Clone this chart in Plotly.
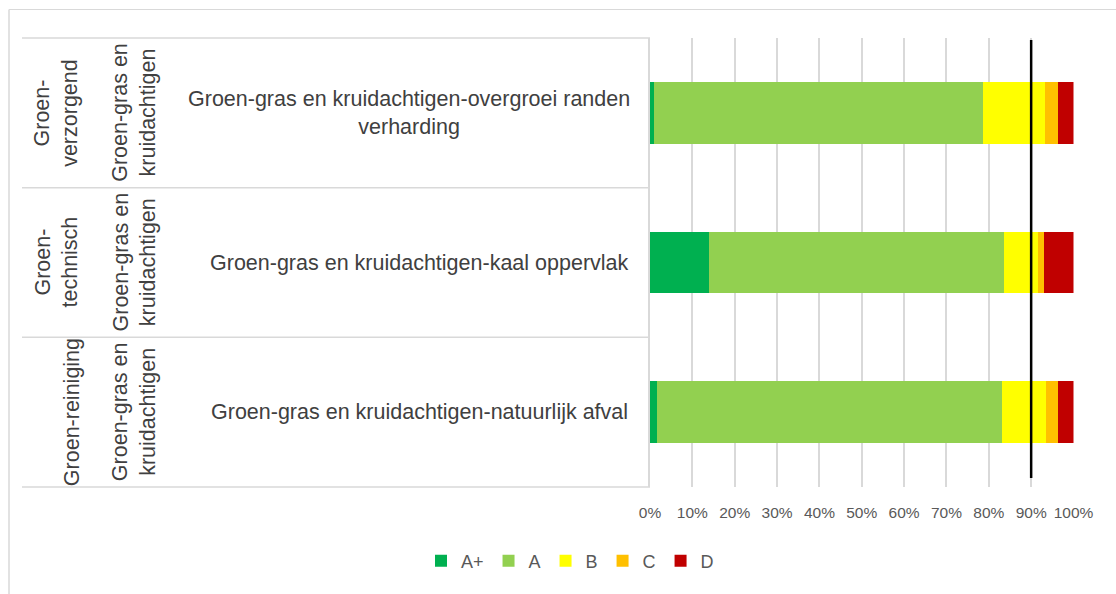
import plotly.graph_objects as go

# ---- data ----
level1 = ["Groen-<br>verzorgend", "Groen-<br>technisch", "Groen-reiniging"]
level2 = ["Groen-gras en<br>kruidachtigen"] * 3
level3 = ["Groen-gras en kruidachtigen-overgroei randen<br>verharding",
          "Groen-gras en kruidachtigen-kaal oppervlak",
          "Groen-gras en kruidachtigen-natuurlijk afval"]
cat_keys = ["verzorgend", "technisch", "reiniging"]
series_names = ["A+", "A", "B", "C", "D"]
values = {
    "A+": [1.0, 14.0, 1.7],
    "A":  [77.6, 69.7, 81.5],
    "B":  [14.7, 7.9, 10.4],
    "C":  [3.0, 1.4, 2.7],
    "D":  [3.7, 7.0, 3.7],
}
colors = {"A+": "#00B050", "A": "#92D050", "B": "#FFFF00", "C": "#FFC000", "D": "#C00000"}
TARGET = 0.90
x_ticks = [i / 10 for i in range(11)]

W, H = 1116, 594
def px(x): return x / W
def py(y): return 1 - y / H

fig = go.Figure()
for s in series_names:
    fig.add_trace(go.Bar(
        y=cat_keys, x=[v / 100 for v in values[s]], name=s, orientation="h",
        marker=dict(color=colors[s], line=dict(width=0)),
        hoverinfo="x+name"))

plot_top, plot_bot = 38, 487
plot_left, plot_right = 650, 1073.5
band = (plot_bot - plot_top) / 3

shapes = []
# outer frame
shapes.append(dict(type="line", xref="paper", yref="paper", x0=px(9), x1=1.0, y0=py(9.5), y1=py(9.5),
                   line=dict(color="#D9D9D9", width=1)))
shapes.append(dict(type="line", xref="paper", yref="paper", x0=px(9), x1=px(9), y0=0, y1=py(9.5),
                   line=dict(color="#D9D9D9", width=1.5)))
# category table lines
for i in range(4):
    yy = plot_top + i * band
    shapes.append(dict(type="line", xref="paper", yref="paper", x0=px(22), x1=px(plot_left), y0=py(yy), y1=py(yy),
                       line=dict(color="#D9D9D9", width=1.5)))
# target line
shapes.append(dict(type="line", xref="x", yref="paper", x0=TARGET, x1=TARGET, y0=py(40), y1=py(478),
                   line=dict(color="#000000", width=2.5)))

annotations = []
FONT = "Liberation Sans, Arial"
font_main = dict(family=FONT, size=21.5, color="#404040")
for i in range(3):
    yc = plot_top + (i + 0.5) * band
    x3 = 409 if "<br>" in level3[i] else 419
    annotations.append(dict(xref="paper", yref="paper", x=px(x3), y=py(yc), text=level3[i],
                            showarrow=False, font=font_main, align="center", xanchor="center", yanchor="middle"))
    annotations.append(dict(xref="paper", yref="paper", x=px(134), y=py(yc), text=level2[i],
                            showarrow=False, font=font_main, textangle=-90, align="center",
                            xanchor="center", yanchor="middle"))
    x1 = 56 if "<br>" in level1[i] else 72
    annotations.append(dict(xref="paper", yref="paper", x=px(x1), y=py(yc), text=level1[i],
                            showarrow=False, font=font_main, textangle=-90, align="center",
                            xanchor="center", yanchor="middle"))

fig.update_layout(
    width=W, height=H, margin=dict(l=0, r=0, t=0, b=0, autoexpand=False), autosize=False,
    paper_bgcolor="white", plot_bgcolor="white",
    barmode="stack", bargap=0.586,
    font=dict(family=FONT, color="#595959"),
    xaxis=dict(domain=[px(plot_left), px(plot_right)], range=[0, 1], tickvals=x_ticks,
               tickformat=".0%", showgrid=True, gridcolor="#D9D9D9", gridwidth=1.5,
               zeroline=False, showline=False, ticks="", ticklabelstandoff=14, automargin=False,
               tickfont=dict(size=15.5, color="#595959")),
    yaxis=dict(domain=[py(plot_bot), py(plot_top)], autorange="reversed", showticklabels=False,
               showline=True, linecolor="#D9D9D9", linewidth=1.5, showgrid=False, ticks="",
               automargin=False),
    legend=dict(orientation="h", x=px(570), xanchor="center", y=py(561), yanchor="middle",
                font=dict(size=18, color="#595959"), traceorder="normal", itemwidth=30),
    shapes=shapes, annotations=annotations, showlegend=True,
)
fig.write_html("out.html", config={"responsive": False, "displayModeBar": False},
               post_script="document.body.style.margin='0';document.body.style.overflow='hidden';")
